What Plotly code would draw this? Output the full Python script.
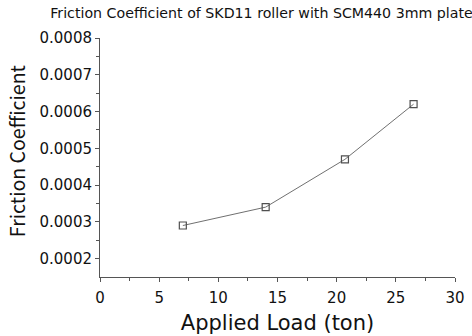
import plotly.graph_objects as go

# Applied load (ton) and measured friction coefficient
load_ton = [7.0, 14.0, 20.7, 26.5]
friction = [0.00029, 0.00034, 0.00047, 0.00062]

x_ticks = [0, 5, 10, 15, 20, 25, 30]
y_ticks = [0.0002, 0.0003, 0.0004, 0.0005, 0.0006, 0.0007, 0.0008]

FONT = "DejaVu Sans"
YTITLE_FONT = "Noto Sans CJK KR"
AXIS_COLOR = "#555555"

fig = go.Figure()
fig.add_trace(go.Scatter(
    x=load_ton,
    y=friction,
    mode="lines+markers",
    line=dict(color="#707070", width=1),
    marker=dict(symbol="square-open", size=7, color="#505050",
                line=dict(width=1.2, color="#505050")),
    showlegend=False,
))

# vertical axis title placed explicitly at the far left
fig.add_annotation(
    text="Friction Coefficient",
    xref="paper", yref="paper",
    x=-0.237, y=0.53, xanchor="center", yanchor="middle",
    textangle=-90, showarrow=False,
    font=dict(family=YTITLE_FONT, size=19.5, color="#111111"),
)

fig.update_layout(
    width=472,
    height=336,
    margin=dict(l=100, r=17, t=38, b=59),
    paper_bgcolor="white",
    plot_bgcolor="white",
    font=dict(family=FONT, color="#111111", size=15),
    title=dict(
        text="Friction Coefficient of SKD11 roller with SCM440 3mm plate",
        xref="container", x=0.554, xanchor="center",
        yref="container", y=0.975, yanchor="top",
        font=dict(family=FONT, size=14.2, color="#111111"),
    ),
    xaxis=dict(
        range=[0, 30],
        automargin=False,
        tickvals=x_ticks,
        ticktext=[str(v) for v in x_ticks],
        showgrid=False, zeroline=False,
        showline=True, linecolor=AXIS_COLOR, linewidth=1,
        ticks="outside", ticklen=4, tickcolor=AXIS_COLOR,
        ticklabelstandoff=3,
        minor=dict(dtick=2.5, ticks="outside", ticklen=3, tickcolor=AXIS_COLOR),
        tickfont=dict(size=15),
        title=dict(text="Applied Load (ton)", font=dict(size=21), standoff=9),
    ),
    yaxis=dict(
        range=[0.00015, 0.0008],
        automargin=False,
        tickvals=y_ticks,
        ticktext=[f"{v:.4f}" for v in y_ticks],
        showgrid=False, zeroline=False,
        showline=True, linecolor=AXIS_COLOR, linewidth=1,
        ticks="outside", ticklen=4, tickcolor=AXIS_COLOR,
        minor=dict(tickvals=[0.00025, 0.00035, 0.00045, 0.00055, 0.00065, 0.00075],
                   ticks="outside", ticklen=3, tickcolor=AXIS_COLOR),
        tickfont=dict(size=15),
    ),
)

fig.write_html("out.html")
